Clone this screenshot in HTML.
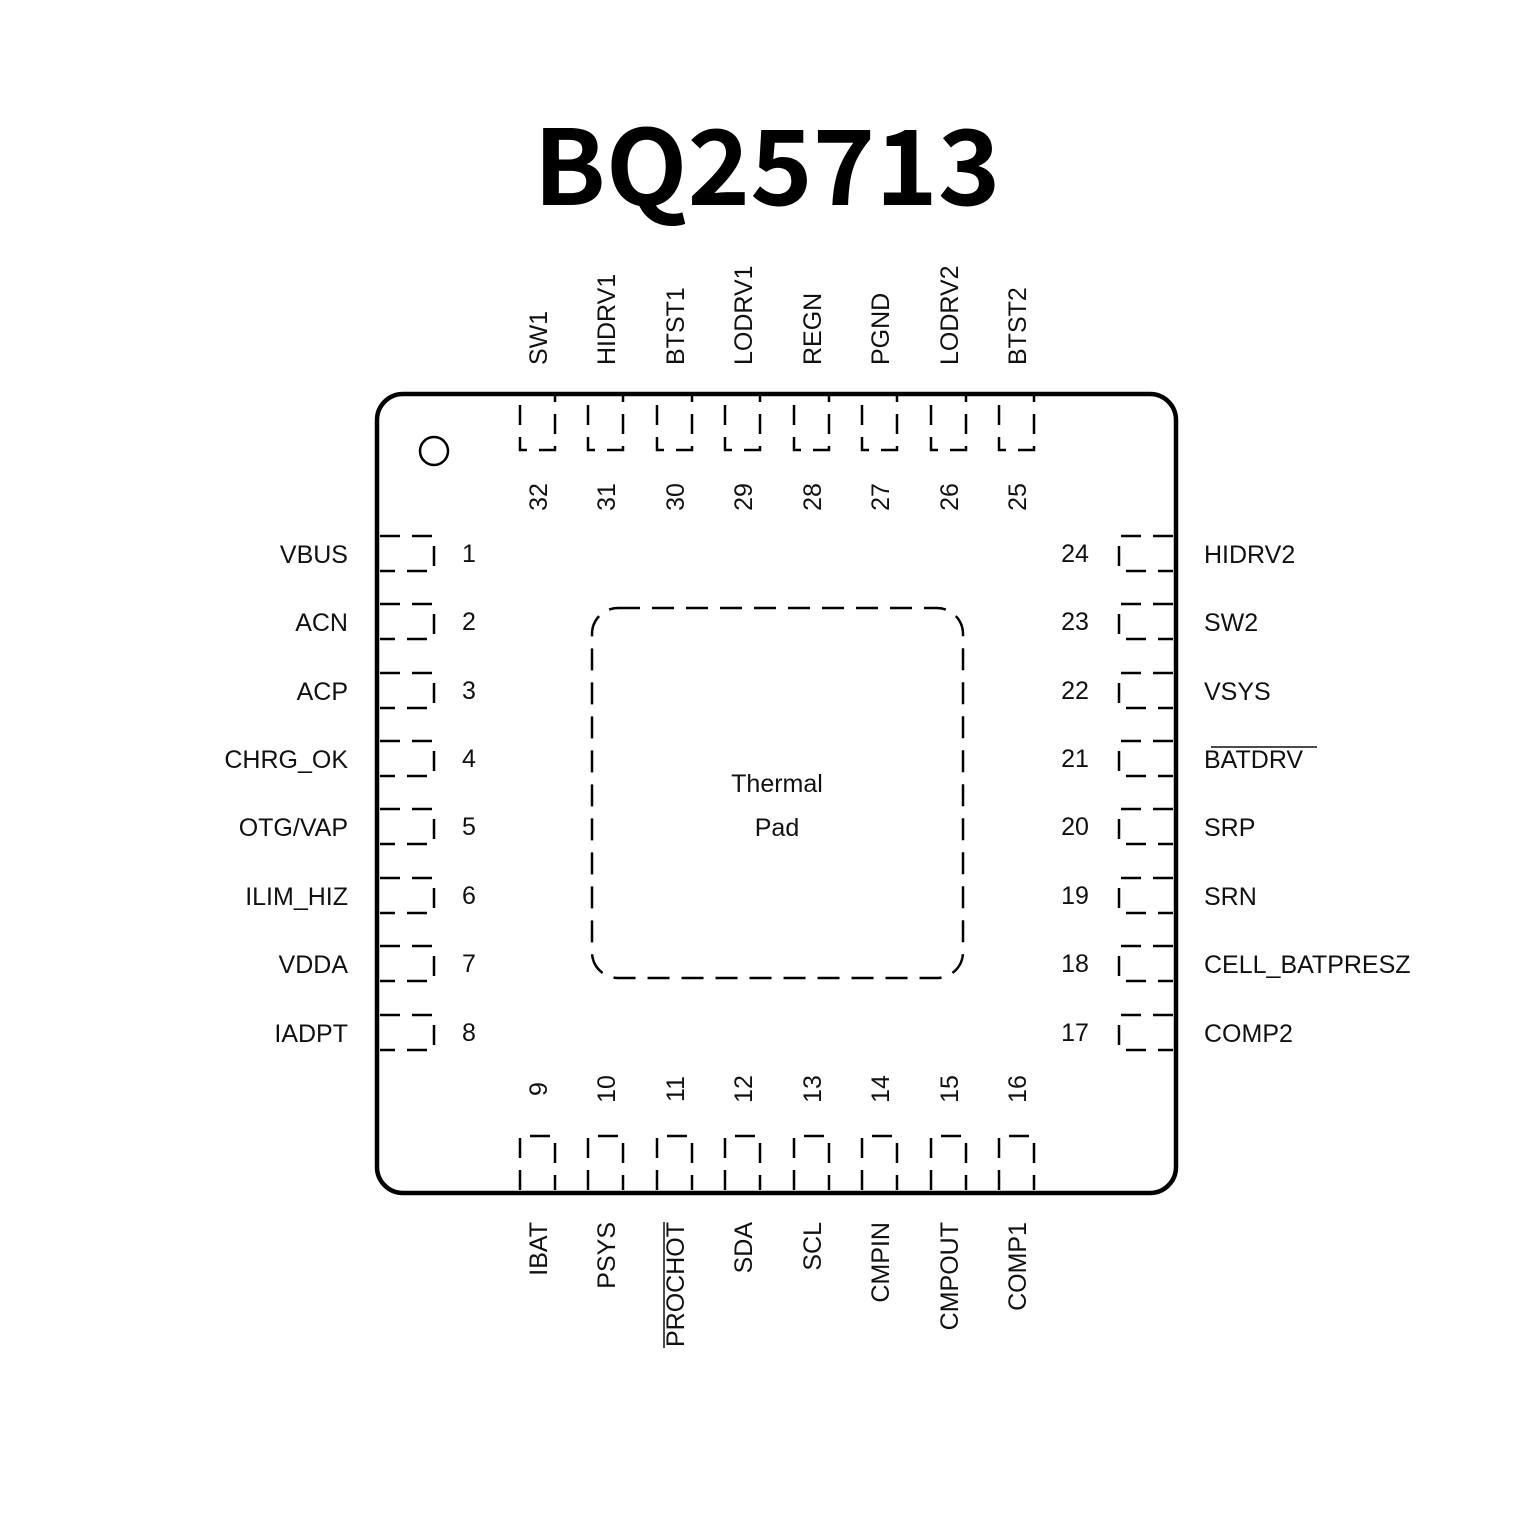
<!DOCTYPE html>
<html><head><meta charset="utf-8"><style>html,body{margin:0;padding:0;background:#fff}svg{display:block}</style></head>
<body>
<svg width="1535" height="1535" viewBox="0 0 1535 1535" xmlns="http://www.w3.org/2000/svg">
<rect width="1535" height="1535" fill="#fff"/>
<text x="767" y="205" text-anchor="middle" font-family="'Noto Sans CJK SC','Liberation Sans',sans-serif" font-weight="bold" font-size="104" textLength="467" lengthAdjust="spacingAndGlyphs">BQ25713</text>
<rect x="377" y="394" width="799" height="799" rx="26" fill="none" stroke="#000" stroke-width="4.5"/>
<circle cx="434" cy="451" r="14" fill="none" stroke="#000" stroke-width="2.5"/>
<rect x="592" y="608" width="371" height="370" rx="26" fill="none" stroke="#000" stroke-width="2.5" stroke-dasharray="22,12"/>
<g fill="none" stroke="#000" stroke-width="2.5" stroke-dasharray="20,12">
<!-- top pads -->
<path d="M520 405V450H555V396"/><path d="M588 405V450H623V396"/><path d="M657 405V450H692V396"/><path d="M725 405V450H760V396"/>
<path d="M794 405V450H829V396"/><path d="M862 405V450H897V396"/><path d="M931 405V450H966V396"/><path d="M999 405V450H1034V396"/>
<!-- bottom pads -->
<path d="M520 1190V1136H555V1190"/><path d="M588 1190V1136H623V1190"/><path d="M657 1190V1136H692V1190"/><path d="M725 1190V1136H760V1190"/>
<path d="M794 1190V1136H829V1190"/><path d="M862 1190V1136H897V1190"/><path d="M931 1190V1136H966V1190"/><path d="M999 1190V1136H1034V1190"/>
<!-- left pads -->
<path d="M380 536H434V571H380"/><path d="M380 604H434V639H380"/><path d="M380 673H434V708H380"/><path d="M380 741H434V776H380"/>
<path d="M380 809H434V844H380"/><path d="M380 878H434V913H380"/><path d="M380 946H434V981H380"/><path d="M380 1015H434V1050H380"/>
<!-- right pads -->
<path d="M1173 536H1119V571H1173"/><path d="M1173 604H1119V639H1173"/><path d="M1173 673H1119V708H1173"/><path d="M1173 741H1119V776H1173"/>
<path d="M1173 809H1119V844H1173"/><path d="M1173 878H1119V913H1173"/><path d="M1173 946H1119V981H1173"/><path d="M1173 1015H1119V1050H1173"/>
</g>
<g font-family="'Liberation Sans',Arial,sans-serif" font-size="25" fill="#111">
<!-- top labels -->
<g text-anchor="start">
<text transform="translate(547,365) rotate(-90)">SW1</text>
<text transform="translate(615,365) rotate(-90)">HIDRV1</text>
<text transform="translate(684,365) rotate(-90)">BTST1</text>
<text transform="translate(752,365) rotate(-90)">LODRV1</text>
<text transform="translate(821,365) rotate(-90)">REGN</text>
<text transform="translate(889,365) rotate(-90)">PGND</text>
<text transform="translate(958,365) rotate(-90)">LODRV2</text>
<text transform="translate(1026,365) rotate(-90)">BTST2</text>
</g>
<g text-anchor="middle">
<text transform="translate(547,497) rotate(-90)">32</text>
<text transform="translate(615,497) rotate(-90)">31</text>
<text transform="translate(684,497) rotate(-90)">30</text>
<text transform="translate(752,497) rotate(-90)">29</text>
<text transform="translate(821,497) rotate(-90)">28</text>
<text transform="translate(889,497) rotate(-90)">27</text>
<text transform="translate(958,497) rotate(-90)">26</text>
<text transform="translate(1026,497) rotate(-90)">25</text>
<text transform="translate(547,1089) rotate(-90)">9</text>
<text transform="translate(615,1089) rotate(-90)">10</text>
<text transform="translate(684,1089) rotate(-90)">11</text>
<text transform="translate(752,1089) rotate(-90)">12</text>
<text transform="translate(821,1089) rotate(-90)">13</text>
<text transform="translate(889,1089) rotate(-90)">14</text>
<text transform="translate(958,1089) rotate(-90)">15</text>
<text transform="translate(1026,1089) rotate(-90)">16</text>
<text x="469" y="562">1</text><text x="469" y="630">2</text><text x="469" y="699">3</text><text x="469" y="767">4</text>
<text x="469" y="835">5</text><text x="469" y="904">6</text><text x="469" y="972">7</text><text x="469" y="1041">8</text>
<text x="1075" y="562">24</text><text x="1075" y="630">23</text><text x="1075" y="699">22</text><text x="1075" y="767">21</text>
<text x="1075" y="835">20</text><text x="1075" y="904">19</text><text x="1075" y="972">18</text><text x="1075" y="1041">17</text>
<text x="777" y="792">Thermal</text>
<text x="777" y="836">Pad</text>
</g>
<g text-anchor="end">
<text transform="translate(547,1222) rotate(-90)">IBAT</text>
<text transform="translate(615,1222) rotate(-90)">PSYS</text>
<text transform="translate(684,1222) rotate(-90)">PROCHOT</text>
<text transform="translate(752,1222) rotate(-90)">SDA</text>
<text transform="translate(821,1222) rotate(-90)">SCL</text>
<text transform="translate(889,1222) rotate(-90)">CMPIN</text>
<text transform="translate(958,1222) rotate(-90)">CMPOUT</text>
<text transform="translate(1026,1222) rotate(-90)">COMP1</text>
<text x="348" y="563">VBUS</text><text x="348" y="631">ACN</text><text x="348" y="700">ACP</text><text x="348" y="768">CHRG_OK</text>
<text x="348" y="836">OTG/VAP</text><text x="348" y="905">ILIM_HIZ</text><text x="348" y="973">VDDA</text><text x="348" y="1042">IADPT</text>
</g>
<g text-anchor="start">
<text x="1204" y="563">HIDRV2</text><text x="1204" y="631">SW2</text><text x="1204" y="700">VSYS</text><text x="1204" y="768">BATDRV</text>
<text x="1204" y="836">SRP</text><text x="1204" y="905">SRN</text><text x="1204" y="973">CELL_BATPRESZ</text><text x="1204" y="1042">COMP2</text>
</g>
</g>
<line x1="1211" y1="747" x2="1317" y2="747" stroke="#111" stroke-width="1.5"/>
<line x1="664" y1="1222" x2="664" y2="1348" stroke="#111" stroke-width="1.5"/>
</svg>
</body></html>
